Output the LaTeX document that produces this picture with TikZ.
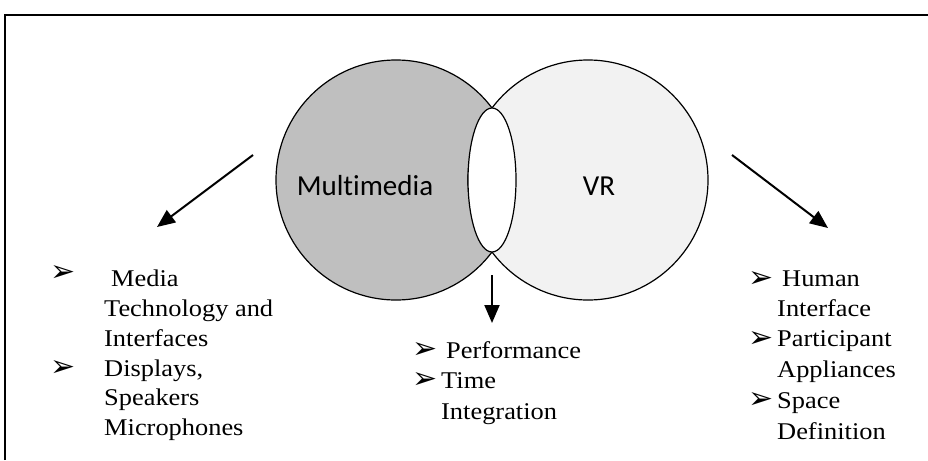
\documentclass[tikz,border=0pt]{standalone}
\usepackage{fontspec}
\usetikzlibrary{arrows.meta,shapes.geometric}
\newfontfamily\serifTNR[FakeStretch=1.1]{Liberation Serif}
\newfontfamily\sansCal[Ligatures=NoCommon]{Carlito}
\newfontfamily\dingDV{DejaVu Sans}
\definecolor{mmgray}{HTML}{BFBFBF}
\definecolor{vrgray}{HTML}{F2F2F2}
\tikzset{
  txtline/.style={anchor=base west, inner sep=0pt, font=\serifTNR\fontsize{24}{30}\selectfont},
  bulletmark/.style={anchor=center, inner sep=0pt, font=\dingDV\fontsize{30}{30}\selectfont},
  venn/.style={draw=black, line width=1.2pt},
  bigarrow/.style={line width=2pt, -{Triangle[length=18pt,width=15pt]}},
  sanslabel/.style={anchor=base, inner sep=0pt, font=\sansCal\fontsize{29}{34}\selectfont},
}
\begin{document}
\begin{tikzpicture}[x=1pt, y=-1pt]
\useasboundingbox (0,0) rectangle (928,460);
% frame
\draw[line width=1.6pt] (5,460) -- (5,15) -- (928,15);
% Venn circles
\node[venn, circle, fill=mmgray, minimum size=240pt, inner sep=0pt] (mm) at (396,180) {};
\node[venn, circle, fill=vrgray, minimum size=240pt, inner sep=0pt] (vr) at (588,180) {};
\node[venn, ellipse, fill=white, minimum width=48pt, minimum height=144pt, inner sep=0pt] (mid) at (492,180) {};
\node[sanslabel] (mmlabel) at (365,195) {Multimedia};
\node[sanslabel] (vrlabel) at (599,195) {VR};
% arrow coordinates
\coordinate (lstart) at (253,155);
\coordinate (ltip) at (157,227);
\coordinate (rstart) at (732,155);
\coordinate (rtip) at (828,228);
\coordinate (dstart) at (492,275);
\coordinate (dtip) at (492,323);
\draw[bigarrow] (lstart) -- (ltip);
\draw[bigarrow] (rstart) -- (rtip);
\draw[bigarrow] (dstart) -- (dtip);
% left block
\node[bulletmark] (lb1) at (63.5,273) {➢};
\node[txtline] (l1) at (111,286.5) {Media};
\node[txtline] (l2) at (104,316.5) {Technology and};
\node[txtline] (l3) at (104,346.5) {Interfaces};
\node[bulletmark] (lb2) at (63.5,368) {➢};
\node[txtline] (l4) at (104,376.5) {Displays,};
\node[txtline] (l5) at (104,405.5) {Speakers};
\node[txtline] (l6) at (104,435) {Microphones};
% centre block
\node[bulletmark] (cb1) at (425.5,350) {➢};
\node[txtline] (c1) at (446,358.3) {Performance};
\node[bulletmark] (cb2) at (425.5,380) {➢};
\node[txtline] (c2) at (441,388.3) {Time};
\node[txtline] (c3) at (441,419.3) {Integration};
% right block
\node[bulletmark] (rb1) at (761,279) {➢};
\node[txtline] (r1) at (782,286) {Human};
\node[txtline] (r2) at (777,316.7) {Interface};
\node[bulletmark] (rb2) at (761,339) {➢};
\node[txtline] (r3) at (777,346.7) {Participant};
\node[txtline] (r4) at (777,377.7) {Appliances};
\node[bulletmark] (rb3) at (761,400) {➢};
\node[txtline] (r5) at (777,408.3) {Space};
\node[txtline] (r6) at (777,439.3) {Definition};
\end{tikzpicture}
\end{document}
